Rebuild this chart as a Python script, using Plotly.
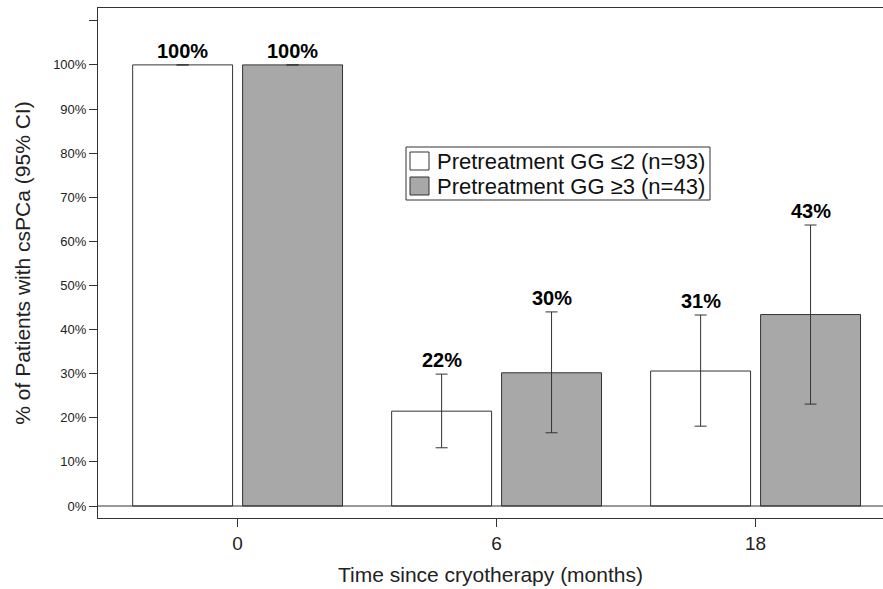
import plotly.graph_objects as go

months = ["0", "6", "18"]
low_gg_name = "Pretreatment GG ≤2 (n=93)"
high_gg_name = "Pretreatment GG ≥3 (n=43)"
low_gg = [100, 21.5, 30.6]
low_gg_ci_upper = [100, 29.9, 43.3]
low_gg_ci_lower = [100, 13.2, 18.1]
high_gg = [100, 30.2, 43.4]
high_gg_ci_upper = [100, 44.0, 63.7]
high_gg_ci_lower = [100, 16.6, 23.1]
low_labels = ["100%", "22%", "31%"]
high_labels = ["100%", "30%", "43%"]
y_ticks = [0, 10, 20, 30, 40, 50, 60, 70, 80, 90, 100, 110]
y_tick_labels = ["0%", "10%", "20%", "30%", "40%", "50%", "60%", "70%", "80%", "90%", "100%", ""]

FONT = "Liberation Sans, Arial, sans-serif"
NARROW = "Liberation Sans Narrow, Arial Narrow, Liberation Sans, Arial, sans-serif"
LINE = "#333333"
WHITE_FILL = "white"
GRAY_FILL = "#a8a8a8"

W, H = 883, 589
ML, MR, MT, MB = 98, 0, 8, 71
PW, PH = W - ML - MR, H - MT - MB


def px_x(p):
    return (p - ML) / PW


def px_y(p):
    return 1 - (p - MT) / PH


def err(vals, up, lo):
    plus = [(u - v) if u != v else None for u, v in zip(up, vals)]
    minus = [(v - l) if l != v else None for v, l in zip(vals, lo)]
    return dict(type="data", symmetric=False, array=plus, arrayminus=minus,
                color=LINE, thickness=1, width=6)


fig = go.Figure()
fig.add_trace(go.Bar(x=list(range(len(months))), y=low_gg, name=low_gg_name, showlegend=False,
                     marker=dict(color=WHITE_FILL, line=dict(color=LINE, width=1)),
                     error_y=err(low_gg, low_gg_ci_upper, low_gg_ci_lower)))
fig.add_trace(go.Bar(x=list(range(len(months))), y=high_gg, name=high_gg_name, showlegend=False,
                     marker=dict(color=GRAY_FILL, line=dict(color=LINE, width=1)),
                     error_y=err(high_gg, high_gg_ci_upper, high_gg_ci_lower)))

for i, m in enumerate(months):
    fig.add_annotation(x=i, y=low_gg_ci_upper[i], text=low_labels[i], showarrow=False,
                       xshift=-55, yanchor="bottom", yshift=1,
                       font=dict(family=FONT, size=20, color="black", weight="bold"))
    fig.add_annotation(x=i, y=high_gg_ci_upper[i], text=high_labels[i], showarrow=False,
                       xshift=55, yanchor="bottom", yshift=1,
                       font=dict(family=FONT, size=20, color="black", weight="bold"))

fig.add_hline(y=0, line=dict(color=LINE, width=1))

# legend (drawn box with swatches and real text)
fig.add_shape(type="rect", xref="paper", yref="paper",
              x0=px_x(406), x1=px_x(710), y0=px_y(200), y1=px_y(147),
              line=dict(color=LINE, width=1), fillcolor="white", layer="above")
for j, (name, fill) in enumerate([(low_gg_name, WHITE_FILL), (high_gg_name, GRAY_FILL)]):
    top = 152 + j * 25
    fig.add_shape(type="rect", xref="paper", yref="paper",
                  x0=px_x(410), x1=px_x(429), y0=px_y(top + 18), y1=px_y(top),
                  line=dict(color=LINE, width=1), fillcolor=fill, layer="above")
    fig.add_annotation(xref="paper", yref="paper", x=px_x(435), y=px_y(top + 9),
                       xanchor="left", yanchor="middle", text=name, showarrow=False,
                       font=dict(family=FONT, size=22, color="#111"))

fig.update_layout(
    width=W, height=H,
    margin=dict(l=ML, r=MR, t=MT, b=MB),
    paper_bgcolor="white", plot_bgcolor="white",
    barmode="group", bargap=0.151, bargroupgap=0.091,
    font=dict(family=FONT, color="#222"),
    showlegend=False,
    xaxis=dict(range=[-0.539, 2.492], tickvals=list(range(len(months))), ticktext=months,
               showline=True, linecolor=LINE, linewidth=1, mirror=True,
               ticks="outside", ticklen=8, tickcolor=LINE, zeroline=False,
               tickfont=dict(family=NARROW, size=19, color="#222"), showgrid=False,
               title=dict(text="Time since cryotherapy (months)",
                          font=dict(family=FONT, size=21, color="#222"), standoff=14)),
    yaxis=dict(range=[-2.72, 112.9], tickvals=y_ticks, ticktext=y_tick_labels,
               showline=True, linecolor=LINE, linewidth=1,
               ticks="outside", ticklen=8, tickcolor=LINE,
               tickfont=dict(size=13, color="#222"), showgrid=False, zeroline=False,
               title=dict(text="% of Patients with csPCa (95% CI)",
                          font=dict(size=21, color="#222"), standoff=16)),
)

fig.write_html("out.html")
